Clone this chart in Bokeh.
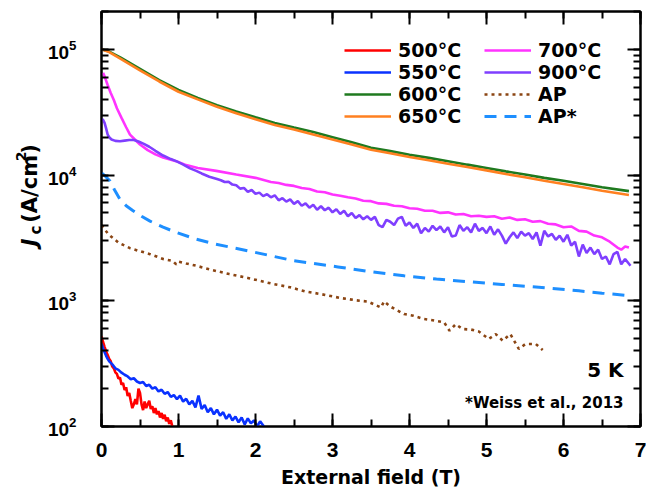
import math
from bokeh.plotting import figure
from bokeh.layouts import row
from bokeh.core.properties import value
from bokeh.models import (Range1d, LinearAxis, LogAxis, SingleIntervalTicker, LogTicker,
                          Legend, LegendItem, Label, CustomJSTickFormatter)
from bokeh.embed import file_html
from bokeh.resources import INLINE

FONT = "DejaVu Sans"
TICKFONT = "Liberation Sans"

# ---------------- data ----------------
x_500 = [0.00, 0.02, 0.04, 0.06, 0.08, 0.10, 0.12, 0.14, 0.16, 0.18, 0.20, 0.22, 0.24, 0.26, 0.28,
         0.30, 0.32, 0.34, 0.36, 0.38, 0.40, 0.42, 0.44, 0.46, 0.48, 0.50, 0.52, 0.54, 0.56, 0.58,
         0.60, 0.62, 0.64, 0.66, 0.68, 0.70, 0.72, 0.74, 0.76, 0.78, 0.80, 0.82, 0.84, 0.86, 0.88,
         0.90, 0.92, 0.94]
y_500 = [520, 470, 430, 395, 370, 345, 330, 300, 290, 270, 262, 240, 245, 215, 222,
         195, 205, 175, 185, 160, 140, 150, 165, 150, 200, 185, 150, 135, 158, 140,
         150, 160, 138, 145, 128, 140, 125, 133, 118, 128, 115, 124, 110, 118, 105,
         112, 100, 96]

x_550 = [0.00, 0.02, 0.04, 0.06, 0.08, 0.10, 0.14, 0.18, 0.22, 0.26, 0.30, 0.34, 0.38, 0.42, 0.46,
         0.50, 0.54, 0.58, 0.62, 0.66, 0.70, 0.74, 0.78, 0.82, 0.86, 0.90, 0.94, 0.98, 1.02, 1.06,
         1.10, 1.14, 1.18, 1.22, 1.26, 1.30, 1.34, 1.38, 1.42, 1.46, 1.50, 1.54, 1.58, 1.62, 1.66,
         1.70, 1.74, 1.78, 1.82, 1.86, 1.90, 1.94, 1.98, 2.02, 2.06, 2.10, 2.12]
y_550 = [455, 420, 390, 365, 345, 330, 312, 290, 282, 268, 258, 250, 238, 242, 228,
         222, 226, 210, 215, 200, 205, 190, 196, 182, 188, 172, 178, 165, 176, 158,
         166, 150, 160, 142, 176, 138, 148, 130, 140, 125, 136, 122, 130, 115, 125,
         112, 120, 108, 118, 104, 116, 106, 112, 100, 110, 102, 96]

x_600 = [0.00, 0.10, 0.25, 0.50, 0.75, 1.00, 1.25, 1.50, 1.75, 2.00, 2.25, 2.50, 2.75, 3.00, 3.25,
         3.50, 3.75, 4.00, 4.25, 4.50, 4.75, 5.00, 5.25, 5.50, 5.75, 6.00, 6.25, 6.50, 6.85]
y_600 = [100000, 96000, 86000, 70000, 57000, 47500, 41000, 36000, 32000, 28800, 26000, 23900, 22000,
         20000, 18200, 16500, 15500, 14500, 13700, 12900, 12100, 11400, 10700, 10100, 9500, 9000,
         8500, 8000, 7450]

x_650 = x_600
y_650 = [100000, 95000, 84000, 68000, 55500, 46000, 40000, 35000, 31000, 27800, 25000, 23000, 21000,
         19200, 17500, 15900, 14900, 13900, 13100, 12300, 11600, 10900, 10200, 9600, 9000, 8500,
         8000, 7500, 6950]

x_700 = [0.02, 0.04, 0.08, 0.12, 0.16, 0.20, 0.26, 0.32, 0.37, 0.44, 0.50, 0.60, 0.70, 0.80, 0.97,
         1.10, 1.25, 1.49, 1.75, 2.00, 2.20, 2.30, 2.40, 2.50, 2.60, 2.70, 2.80, 2.90, 3.00, 3.10,
         3.20, 3.30, 3.40, 3.50, 3.60, 3.70, 3.80, 3.90, 4.00, 4.10, 4.20, 4.30, 4.40, 4.50, 4.60,
         4.70, 4.80, 4.90, 5.00, 5.10, 5.20, 5.30, 5.40, 5.50, 5.60, 5.70, 5.80, 5.90, 6.00, 6.10,
         6.20, 6.30, 6.40, 6.50, 6.60, 6.70, 6.75, 6.80, 6.85]
y_700 = [65000, 61000, 52000, 45000, 39500, 34000, 28500, 24000, 21000, 19000, 17500, 15800, 14600,
         13800, 12900, 12000, 11400, 10800, 10100, 9500, 8800, 8650, 8350, 8200, 7900, 7750, 7400,
         7300, 7000, 6850, 6650, 6500, 6250, 6200, 5950, 5900, 5700, 5650, 5450, 5400, 5200, 5200,
         5000, 5050, 4850, 4900, 4700, 4750, 4650, 4700, 4500, 4600, 4400, 4450, 4250, 4300, 4100,
         4050, 3850, 3900, 3600, 3550, 3300, 3200, 2950, 2650, 2550, 2700, 2650]

x_900 = [0.00, 0.02, 0.04, 0.06, 0.08, 0.10, 0.13, 0.18, 0.24, 0.30, 0.36, 0.42, 0.48, 0.55, 0.62,
         0.70, 0.80, 0.90, 0.97, 1.05, 1.15, 1.23, 1.30, 1.40, 1.50, 1.55, 1.60, 1.65, 1.70, 1.75,
         1.80, 1.85, 1.90, 1.95, 2.00, 2.05, 2.10, 2.15, 2.20, 2.25, 2.30, 2.35, 2.40, 2.45, 2.50,
         2.55, 2.60, 2.65, 2.70, 2.75, 2.80, 2.85, 2.90, 2.95, 3.00, 3.05, 3.10, 3.15, 3.20, 3.25,
         3.30, 3.35, 3.40, 3.45, 3.50, 3.55, 3.60, 3.65, 3.70, 3.75, 3.80, 3.85, 3.90, 3.95, 4.00,
         4.05, 4.10, 4.15, 4.20, 4.25, 4.30, 4.35, 4.40, 4.45, 4.50, 4.55, 4.60, 4.65, 4.70, 4.75,
         4.80, 4.85, 4.90, 4.95, 5.00, 5.05, 5.10, 5.15, 5.20, 5.25, 5.30, 5.35, 5.40, 5.45, 5.50,
         5.55, 5.60, 5.65, 5.70, 5.75, 5.80, 5.85, 5.90, 5.95, 6.00, 6.05, 6.10, 6.15, 6.20, 6.25,
         6.30, 6.35, 6.40, 6.45, 6.50, 6.55, 6.60, 6.65, 6.70, 6.75, 6.80, 6.87]
y_900 = [28000, 27500, 26000, 23500, 21000, 20000, 19200, 18700, 18600, 18800, 19000, 19000, 18500,
         17700, 16800, 15600, 14300, 13400, 12900, 12200, 11300, 10800, 10300, 9700, 9300, 9100,
         8800, 8850, 8400, 8300, 7800, 7900, 7350, 7600, 7100, 7250, 6800, 7050, 6650, 6900, 6300,
         6550, 6150, 6400, 5900, 6200, 5700, 5950, 5500, 5800, 5300, 5650, 5250, 5500, 5050, 5350,
         4900, 5200, 4700, 5000, 4550, 4800, 4450, 4700, 4400, 4650, 4000, 3850, 4400, 4250, 4000,
         4500, 4650, 3950, 4200, 3800, 4100, 3450, 3800, 3550, 3950, 3650, 3900, 3500, 3850, 3250,
         3300, 4000, 3600, 3850, 3500, 4100, 3600, 3800, 3450, 3900, 3350, 3700, 3300, 2850, 3200,
         3500, 3150, 3550, 3300, 3450, 3100, 3500, 2750, 3600, 3250, 3400, 3050, 3300, 2950, 3350,
         2750, 2950, 2250, 2800, 2400, 2650, 2350, 2550, 2150, 2250, 1950, 2350, 2450, 1950, 2150, 1900]

x_ap = [0.00, 0.09, 0.22, 0.37, 0.50, 0.63, 0.80, 0.92, 0.97, 1.00, 1.10, 1.23, 1.40, 1.66, 1.90,
        2.23, 2.45, 2.64, 2.85, 3.11, 3.30, 3.46, 3.55, 3.63, 3.67, 3.75, 3.93, 4.05, 4.19, 4.30,
        4.45, 4.52, 4.60, 4.69, 4.80, 4.90, 5.03, 5.12, 5.21, 5.31, 5.42, 5.50, 5.55, 5.64, 5.73]
y_ap = [4000, 3380, 2900, 2620, 2480, 2350, 2150, 2080, 1950, 2050, 1980, 1900, 1780, 1630, 1520,
        1360, 1280, 1190, 1130, 1050, 1010, 986, 930, 885, 990, 900, 784, 760, 716, 700,
        673, 578, 650, 596, 590, 570, 497, 543, 482, 543, 414, 450, 453, 453, 406]

x_aps = [0.00, 0.05, 0.11, 0.17, 0.24, 0.32, 0.41, 0.52, 0.63, 0.80, 0.97, 1.23, 1.45, 1.66, 1.90,
         2.20, 2.50, 3.07, 3.50, 3.93, 4.35, 4.75, 5.20, 5.68, 6.20, 6.50, 6.85]
y_aps = [10400, 9800, 8960, 7600, 6400, 5700, 5200, 4700, 4300, 3850, 3500, 3090, 2850, 2680, 2500,
         2280, 2080, 1860, 1700, 1580, 1490, 1420, 1350, 1280, 1200, 1150, 1100]

series_names = ["500°C", "550°C", "600°C", "650°C", "700°C", "900°C", "AP", "AP*"]

# ---------------- layout geometry ----------------
LW = 44                      # width of the narrow y-label strip
TOTAL_W, TOTAL_H = 646, 493
X0, X1, Y0, Y1 = 0.0, 7.0, 100.0, 2e5
FL, FR, FT, FB = 100, 640, 11, 426   # frame edges in page pixels

# ---------------- main figure ----------------
p = figure(width=TOTAL_W - LW, height=TOTAL_H, y_axis_type="log",
           x_range=Range1d(X0, X1), y_range=Range1d(Y0, Y1),
           output_backend="svg", toolbar_location=None,
           min_border_left=FL - LW, min_border_right=TOTAL_W - FR, min_border_top=FT,
           min_border_bottom=TOTAL_H - FB)
p.grid.visible = False
p.outline_line_color = "black"
p.outline_line_width = 2
p.background_fill_color = "white"
p.border_fill_color = "white"

W = 2.6
r500 = p.line(x_500, y_500, line_color="#ff0000", line_width=W)
r550 = p.line(x_550, y_550, line_color="#0a32ff", line_width=W)
r600 = p.line(x_600, y_600, line_color="#1f7a1f", line_width=W)
r650 = p.line(x_650, y_650, line_color="#ff8020", line_width=W)
r700 = p.line(x_700, y_700, line_color="#ff33ff", line_width=W)
r900 = p.line(x_900, y_900, line_color="#7f3fff", line_width=W)
rap = p.line(x_ap, y_ap, line_color="#8b4513", line_width=W, line_dash="3 4")
raps = p.line(x_aps, y_aps, line_color="#1e8fff", line_width=W + 0.4, line_dash="12 8")

# ---------------- axes ----------------
def style_axis(ax, font=FONT, size="19px"):
    ax.axis_line_width = 2
    ax.major_tick_line_width = 2
    ax.minor_tick_line_width = 2
    ax.major_tick_in = 13
    ax.major_tick_out = 0
    ax.minor_tick_in = 7
    ax.minor_tick_out = 0
    ax.major_label_text_font = font
    ax.major_label_text_font_style = "bold"
    ax.major_label_text_font_size = size
    ax.major_label_text_color = "black"

xb = p.xaxis[0]
xb.ticker = SingleIntervalTicker(interval=1, num_minor_ticks=2)
style_axis(xb, TICKFONT, "21px")
xb.major_label_standoff = 16
xb.axis_label = "External field (T)"
xb.axis_label_text_font = FONT
xb.axis_label_text_font_style = "bold"
xb.axis_label_text_font_size = "19px"
xb.axis_label_text_color = "black"
xb.axis_label_standoff = 6

yl = p.yaxis[0]
yl.ticker = LogTicker(num_minor_ticks=10)
style_axis(yl, TICKFONT, "19px")
yl.major_label_standoff = 25

blank = CustomJSTickFormatter(code="return ''")
xt = LinearAxis(ticker=SingleIntervalTicker(interval=1, num_minor_ticks=2), formatter=blank)
style_axis(xt)
xt.major_label_standoff = 0
p.add_layout(xt, "above")

yr = LogAxis(ticker=LogTicker(num_minor_ticks=10), formatter=blank)
style_axis(yr)
yr.major_label_standoff = 0
p.add_layout(yr, "right")

# pixel -> data helpers for placing annotations inside the frame
def dx(px):
    return X0 + (px - FL) / (FR - FL) * (X1 - X0)

def dy(py):
    lo, hi = math.log10(Y0), math.log10(Y1)
    return 10 ** (lo + (FB - py) / (FB - FT) * (hi - lo))

# ---------------- annotations ----------------
p.add_layout(Label(x=dx(623), y=dy(369), text="5 K", text_align="right", text_baseline="middle",
                   text_font=FONT, text_font_style="bold", text_font_size="20px",
                   text_color="black"))
p.add_layout(Label(x=dx(623), y=dy(402), text="*Weiss et al., 2013", text_align="right",
                   text_baseline="middle", text_font=FONT, text_font_style="bold",
                   text_font_size="15px", text_color="black"))

# ---------------- legends ----------------
def make_legend(items, loc):
    lg = Legend(items=items, location=loc, orientation="vertical")
    lg.border_line_color = None
    lg.background_fill_alpha = 0
    lg.padding = 0
    lg.margin = 0
    lg.spacing = 0
    lg.label_text_font = FONT
    lg.label_text_font_style = "bold"
    lg.label_text_font_size = "19px"
    lg.label_text_color = "black"
    lg.label_height = 22
    lg.glyph_height = 22
    lg.glyph_width = 47
    lg.label_standoff = 7
    return lg

lg1 = make_legend([LegendItem(label=series_names[0], renderers=[r500]),
                   LegendItem(label=series_names[1], renderers=[r550]),
                   LegendItem(label=series_names[2], renderers=[r600]),
                   LegendItem(label=series_names[3], renderers=[r650])], (243, 299))
lg2 = make_legend([LegendItem(label=series_names[4], renderers=[r700]),
                   LegendItem(label=series_names[5], renderers=[r900]),
                   LegendItem(label=series_names[6], renderers=[rap]),
                   LegendItem(label=series_names[7], renderers=[raps])], (383, 299))
p.add_layout(lg1)
p.add_layout(lg2)

# ---------------- y-axis label strip (pixel coordinates, y measured from bottom) ----------------
q = figure(width=LW, height=TOTAL_H, x_range=Range1d(0, LW), y_range=Range1d(0, TOTAL_H),
           output_backend="svg", toolbar_location=None,
           x_axis_location=None, y_axis_location=None,
           min_border_left=0, min_border_right=0, min_border_top=0, min_border_bottom=0)
q.grid.visible = False
q.outline_line_color = None
q.background_fill_color = "white"
q.border_fill_color = "white"

def ylab(text, px, py, size, style="bold"):
    q.text(x=[px], y=[TOTAL_H - py], text=[text], angle=math.pi / 2,
           text_align="left", text_baseline="alphabetic",
           text_font=value(FONT), text_font_style=style, text_font_size=size,
           text_color="black")

ylab("J", 29, 279, "21px", "bold italic")
ylab("c", 35, 265, "15px")
ylab("(A/cm", 29, 251, "21px")
ylab("2", 20, 178, "14px")
ylab(")", 29, 169, "21px")

layout = row(q, p, spacing=0)
open("out.html", "w").write(file_html(layout, INLINE))
